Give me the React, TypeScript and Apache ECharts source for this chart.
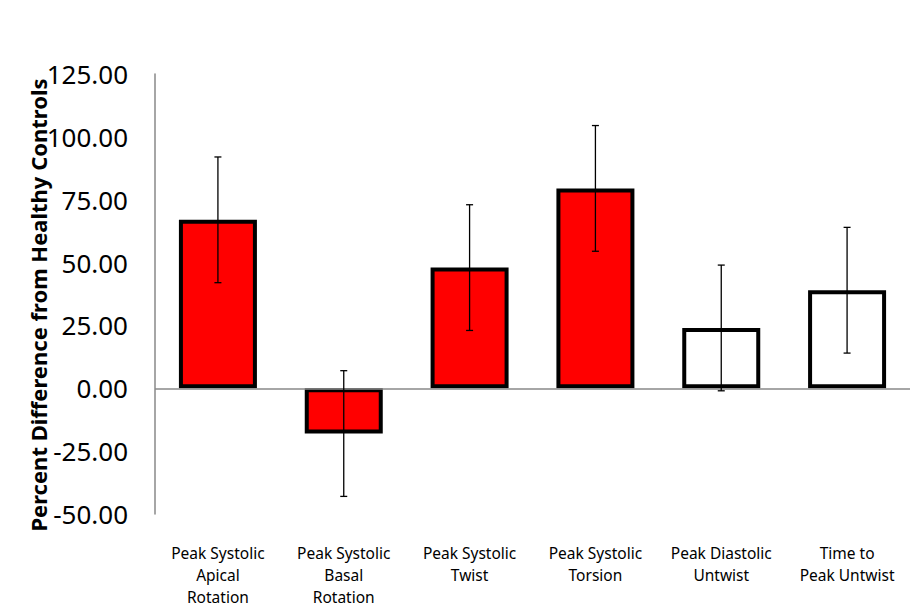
import React, { useEffect, useRef } from "react";
import * as echarts from "echarts";

const categories = [
  "Peak Systolic\nApical\nRotation",
  "Peak Systolic\nBasal\nRotation",
  "Peak Systolic\nTwist",
  "Peak Systolic\nTorsion",
  "Peak Diastolic\nUntwist",
  "Time to\nPeak Untwist",
];
const values = [67, -18, 48, 79.5, 24, 39];
const errors = [25, 25, 25, 25, 25, 25];
const fills = ["#FF0000", "#FF0000", "#FF0000", "#FF0000", "#FFFFFF", "#FFFFFF"];
const yTitle = "Percent Difference from Healthy Controls";

const FONT = "'Noto Sans', sans-serif";

export default function App() {
  const ref = useRef<HTMLDivElement>(null);
  useEffect(() => {
    if (!ref.current) return;
    const chart = echarts.init(ref.current, undefined, { renderer: "svg" });
    chart.setOption({
      animation: false,
      backgroundColor: "#FFFFFF",
      grid: { left: 155, top: 74, right: 12, bottom: 98, containLabel: false },
      graphic: [
        {
          type: "text",
          x: 38,
          y: 305,
          rotation: Math.PI / 2,
          style: {
            text: yTitle,
            fontFamily: FONT,
            fontSize: 22,
            fontWeight: "bold",
            fill: "#000",
            align: "center",
            verticalAlign: "middle",
          },
        },
      ],
      xAxis: {
        type: "category",
        data: categories,
        axisLine: { show: false },
        axisTick: { show: false },
        axisLabel: {
          interval: 0,
          margin: 28,
          fontFamily: FONT,
          fontSize: 15.5,
          lineHeight: 22,
          color: "#000",
          align: "center",
        },
      },
      yAxis: {
        type: "value",
        min: -50,
        max: 125,
        interval: 25,
        axisLine: { show: true, lineStyle: { color: "#888", width: 1.5 } },
        axisTick: { show: false },
        splitLine: { show: false },
        axisLabel: {
          margin: 27,
          fontFamily: FONT,
          fontSize: 26,
          color: "#000",
          formatter: (v: number) => v.toFixed(2),
        },
      },
      series: [
        {
          type: "bar",
          barWidth: 78,
          data: values.map((v, i) => ({
            value: v,
            itemStyle: { color: fills[i], borderColor: "#000", borderWidth: 4 },
          })),
          markLine: {
            silent: true,
            symbol: ["none", "none"],
            label: { show: false },
            lineStyle: { color: "#888", width: 1.5, type: "solid" },
            data: [{ yAxis: 0 }],
          },
        },
        {
          type: "custom",
          z: 5,
          data: values.map((v, i) => [i, v - errors[i], v + errors[i]]),
          encode: { x: 0, y: [1, 2] },
          renderItem: (params: any, api: any) => {
            const x = api.value(0);
            const lo = api.coord([x, api.value(1)]);
            const hi = api.coord([x, api.value(2)]);
            const cw = 3.5;
            const style = { stroke: "#000", lineWidth: 1.3 };
            return {
              type: "group",
              children: [
                { type: "line", shape: { x1: lo[0], y1: lo[1], x2: hi[0], y2: hi[1] }, style },
                { type: "line", shape: { x1: hi[0] - cw, y1: hi[1], x2: hi[0] + cw, y2: hi[1] }, style },
                { type: "line", shape: { x1: lo[0] - cw, y1: lo[1], x2: lo[0] + cw, y2: lo[1] }, style },
              ],
            };
          },
        },
      ],
    });
    return () => chart.dispose();
  }, []);
  return <div ref={ref} style={{ width: 922, height: 612, position: "absolute", left: 0, top: 0 }} />;
}
